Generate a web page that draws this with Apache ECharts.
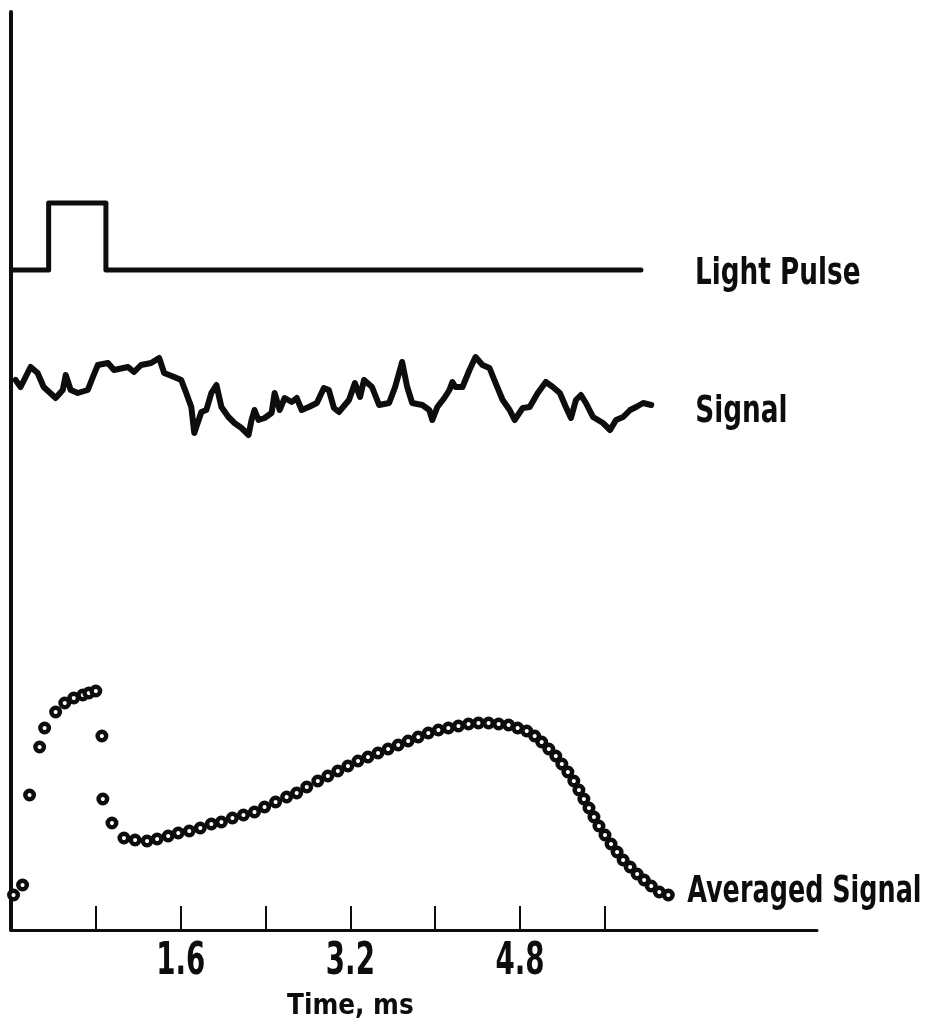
<!DOCTYPE html>
<html>
<head>
<meta charset="utf-8">
<script src="https://cdn.jsdelivr.net/npm/echarts@6/dist/echarts.min.js"></script>
<style>
html,body{margin:0;padding:0;background:#fff;}
#chart{width:925px;height:1032px;}
</style>
</head>
<body>
<div id="chart"></div>
<script>
// Time axis (ms)
const xTickValues = [0.8, 1.6, 2.4, 3.2, 4.0, 4.8, 5.6];
const xLabelValues = [1.6, 3.2, 4.8];
const xAxisTitle = 'Time, ms';
const seriesNames = ['Light Pulse', 'Signal', 'Averaged Signal'];

// Light pulse trace: [time ms, level]
const lightPulse = [[0.01, 66.0], [0.355, 66.0], [0.355, 72.7], [0.895, 72.7], [0.895, 66.0], [5.94, 66.0]];

// Raw signal trace: [time ms, level]
const signal = [
  [0.043, 55.0], [0.090, 54.3], [0.185, 56.3], [0.251, 55.7], [0.308, 54.3], [0.421, 53.2],
  [0.488, 54.0], [0.516, 55.5], [0.563, 54.0], [0.630, 53.7], [0.724, 54.0], [0.772, 55.3],
  [0.819, 56.5], [0.914, 56.7], [0.971, 56.0], [1.103, 56.3], [1.160, 55.8], [1.226, 56.5],
  [1.321, 56.7], [1.397, 57.2], [1.444, 55.7], [1.539, 55.3], [1.605, 55.0], [1.652, 53.7],
  [1.700, 52.3], [1.728, 49.7], [1.795, 51.8], [1.842, 52.0], [1.889, 53.7], [1.937, 54.5],
  [1.984, 52.3], [2.050, 51.3], [2.107, 50.7], [2.173, 50.2], [2.240, 49.5], [2.268, 51.0],
  [2.296, 52.0], [2.334, 51.0], [2.391, 51.2], [2.457, 51.7], [2.486, 53.7], [2.533, 52.0],
  [2.580, 53.2], [2.647, 52.8], [2.694, 53.2], [2.741, 52.0], [2.808, 52.3], [2.884, 52.7],
  [2.950, 54.2], [2.997, 54.0], [3.045, 52.2], [3.092, 51.8], [3.187, 53.0], [3.243, 54.7],
  [3.291, 53.3], [3.329, 55.0], [3.404, 54.3], [3.471, 52.5], [3.565, 52.7], [3.622, 54.3],
  [3.688, 56.8], [3.736, 54.3], [3.783, 52.7], [3.878, 52.5], [3.944, 52.0], [3.973, 51.0],
  [4.020, 52.3], [4.086, 53.2], [4.134, 54.0], [4.162, 54.8], [4.190, 54.3], [4.257, 54.3],
  [4.323, 56.0], [4.380, 57.3], [4.446, 56.5], [4.512, 56.2], [4.569, 54.7], [4.636, 53.0],
  [4.702, 52.0], [4.749, 51.0], [4.825, 52.2], [4.891, 52.3], [4.967, 53.7], [5.043, 54.8],
  [5.109, 54.3], [5.175, 53.7], [5.232, 52.3], [5.280, 51.2], [5.327, 53.0], [5.374, 53.5],
  [5.421, 52.7], [5.488, 51.3], [5.582, 50.7], [5.649, 50.0], [5.705, 51.0], [5.772, 51.3],
  [5.838, 52.0], [5.895, 52.3], [5.961, 52.7], [6.037, 52.5]
];

// Averaged signal samples: [time ms, level]
const averaged = [
  [0.024, 3.5], [0.109, 4.5], [0.175, 13.5], [0.270, 18.3], [0.317, 20.2], [0.421, 21.8],
  [0.507, 22.7], [0.592, 23.2], [0.677, 23.5], [0.734, 23.7], [0.800, 23.9], [0.857, 19.4],
  [0.866, 13.1], [0.952, 10.7], [1.065, 9.2], [1.170, 9.0], [1.283, 8.9], [1.378, 9.1],
  [1.482, 9.4], [1.577, 9.7], [1.681, 9.9], [1.785, 10.2], [1.889, 10.6], [1.984, 10.8],
  [2.088, 11.2], [2.192, 11.5], [2.296, 11.8], [2.391, 12.3], [2.495, 12.8], [2.599, 13.3],
  [2.694, 13.7], [2.789, 14.3], [2.893, 14.9], [2.988, 15.4], [3.082, 15.9], [3.177, 16.4],
  [3.272, 16.9], [3.366, 17.3], [3.461, 17.7], [3.556, 18.1], [3.651, 18.5], [3.745, 18.9],
  [3.840, 19.3], [3.935, 19.7], [4.030, 20.0], [4.124, 20.2], [4.219, 20.4], [4.314, 20.6],
  [4.408, 20.7], [4.503, 20.7], [4.598, 20.6], [4.692, 20.5], [4.777, 20.2], [4.863, 19.9],
  [4.938, 19.4], [5.004, 18.8], [5.071, 18.1], [5.137, 17.4], [5.194, 16.6], [5.251, 15.8],
  [5.307, 14.9], [5.355, 14.0], [5.402, 13.1], [5.450, 12.2], [5.497, 11.3], [5.544, 10.4],
  [5.601, 9.5], [5.658, 8.6], [5.715, 7.8], [5.772, 7.0], [5.838, 6.3], [5.904, 5.6],
  [5.970, 5.0], [6.037, 4.4], [6.113, 3.8], [6.198, 3.5]
];

const FONT = "'DejaVu Sans Condensed', 'DejaVu Sans', sans-serif";
const INK = '#0d0d0d';

const chart = echarts.init(document.getElementById('chart'), null, {renderer: 'canvas'});

chart.setOption({
  backgroundColor: '#ffffff',
  animation: false,
  grid: {left: 11, right: 108, top: 12, bottom: 102, containLabel: false},
  xAxis: {
    type: 'value',
    min: 0,
    max: 7.6,
    interval: 0.8,
    axisLine: {show: true, onZero: false, lineStyle: {color: INK, width: 3}},
    axisTick: {show: true, inside: true, length: 24, customValues: xTickValues, lineStyle: {color: INK, width: 2}},
    axisLabel: {show: false},
    splitLine: {show: false}
  },
  yAxis: {
    type: 'value',
    min: 0,
    max: 91.8,
    axisLine: {show: true, onZero: false, lineStyle: {color: INK, width: 4}},
    axisTick: {show: false},
    axisLabel: {show: false},
    splitLine: {show: false}
  },
  series: [
    {
      name: seriesNames[0],
      type: 'line',
      data: lightPulse,
      showSymbol: false,
      symbol: 'none',
      lineStyle: {color: INK, width: 5, join: 'round', cap: 'round'}
    },
    {
      name: seriesNames[1],
      type: 'line',
      data: signal,
      showSymbol: false,
      symbol: 'none',
      lineStyle: {color: INK, width: 6, join: 'round', cap: 'round'}
    },
    {
      name: seriesNames[2],
      type: 'line',
      data: averaged,
      symbol: 'circle',
      symbolSize: 8.5,
      showSymbol: true,
      showAllSymbol: true,
      lineStyle: {width: 0, opacity: 0},
      itemStyle: {color: '#ffffff', borderColor: INK, borderWidth: 4.5}
    }
  ]
});

// Condensed text labels placed from the chart's own coordinate system (anchor = top of text)
function condensedText(pt, dx, dy, text, size, sx, align) {
  return {
    type: 'text',
    x: pt[0] + dx,
    y: pt[1] + dy,
    scaleX: sx,
    silent: true,
    style: {
      text: text, x: 0, y: 0,
      fontFamily: FONT, fontWeight: 'bold', fontSize: size, fill: INK,
      align: align, verticalAlign: 'top',
      textAlign: align, textVerticalAlign: 'top'
    }
  };
}

const toPx = v => chart.convertToPixel({gridIndex: 0}, v);
const last = arr => arr[arr.length - 1];
const graphics = [];
graphics.push(condensedText(toPx(last(lightPulse)), 54, -15, seriesNames[0], 38, 0.77, 'left'));
graphics.push(condensedText(toPx(last(signal)), 44, -12, seriesNames[1], 38, 0.77, 'left'));
graphics.push(condensedText(toPx(last(averaged)), 19, -22, seriesNames[2], 38, 0.745, 'left'));
xLabelValues.forEach(v => {
  graphics.push(condensedText(toPx([v, 0]), 0, 11, v.toFixed(1), 44, 0.7, 'center'));
});
graphics.push(condensedText(toPx([3.2, 0]), 0, 62, xAxisTitle, 29, 0.95, 'center'));
chart.setOption({graphic: graphics});
</script>
</body>
</html>
